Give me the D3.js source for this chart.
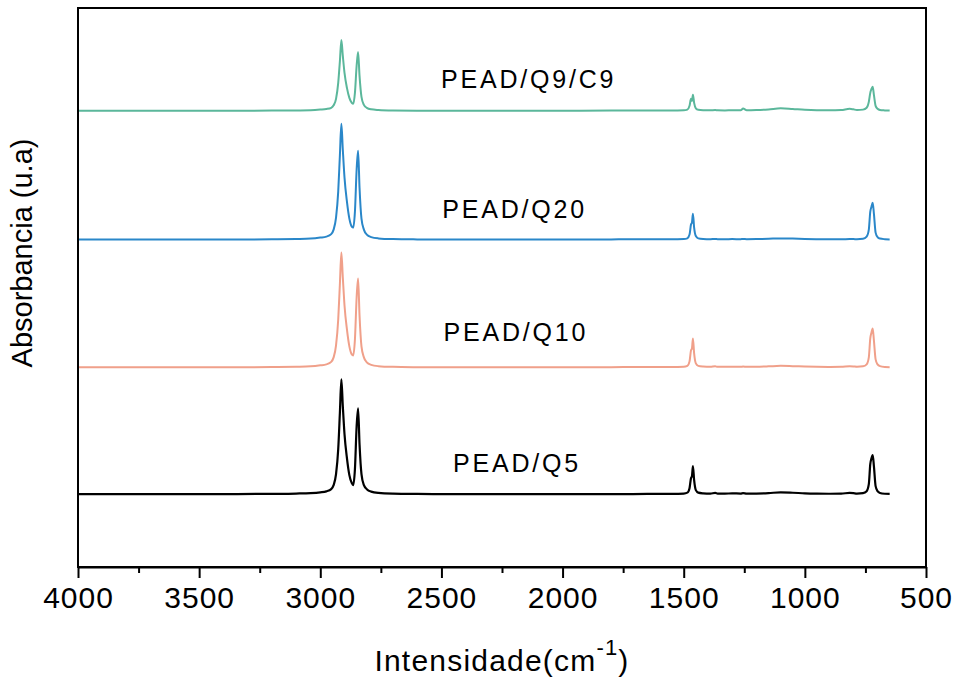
<!DOCTYPE html>
<html>
<head>
<meta charset="utf-8">
<script src="https://cdn.jsdelivr.net/npm/d3@7"></script>
<style>
    body { margin: 0; background: #fff; }
    text { font-family: "Liberation Sans", Arial, sans-serif; fill: #000; }
</style>
</head>
<body>
<div id="chart-area"></div>
<script>
/*
*    FTIR spectra of PEAD samples, stacked
*/

// wavenumber grid (cm-1), shared by every spectrum
const wavenumbers = [
    4000, 3800, 3600, 3400, 3200, 3100, 3040, 3000, 2975, 2955,
    2945, 2935, 2926, 2919, 2913, 2907, 2900, 2890, 2880, 2870,
    2864, 2857, 2850, 2844, 2838, 2830, 2820, 2808, 2790, 2760,
    2700, 2600, 2400, 2200, 2000, 1800, 1650, 1550, 1500, 1485,
    1476, 1470, 1466, 1462, 1457, 1450, 1440, 1420, 1390, 1370,
    1360, 1330, 1300, 1265, 1255, 1240, 1200, 1150, 1100, 1050,
    1000, 950, 900, 850, 815, 800, 785, 760, 745, 736,
    730, 725, 720, 715, 708, 700, 690, 670, 650
];

// absorbance above each baseline (u.a)
const q5 = [
    0, 0, 0, 0, 0.003, 0.006, 0.01, 0.018, 0.028, 0.05,
    0.09, 0.2, 0.45, 0.82, 1.15, 0.88, 0.6, 0.36, 0.19, 0.11,
    0.09, 0.25, 0.68, 0.86, 0.5, 0.2, 0.09, 0.05, 0.025, 0.012,
    0.005, 0.002, 0, 0, 0, 0, 0.002, 0.003, 0.006, 0.015,
    0.06, 0.16, 0.18, 0.28, 0.14, 0.04, 0.015, 0.008, 0.005, 0.012,
    0.006, 0.005, 0.008, 0.006, 0.01, 0.005, 0.006, 0.01, 0.018, 0.014,
    0.008, 0.005, 0.004, 0.005, 0.012, 0.01, 0.006, 0.01, 0.03, 0.1,
    0.3, 0.36, 0.39, 0.28, 0.08, 0.03, 0.012, 0.004, 0.002
];
const q10 = [
    0, 0, 0, 0, 0.003, 0.006, 0.01, 0.02, 0.03, 0.055,
    0.1, 0.22, 0.48, 0.84, 1.15, 0.9, 0.62, 0.38, 0.21, 0.13,
    0.12, 0.28, 0.7, 0.89, 0.52, 0.21, 0.1, 0.05, 0.025, 0.012,
    0.005, 0.002, 0, 0, 0, 0.002, 0.004, 0.004, 0.006, 0.015,
    0.06, 0.17, 0.19, 0.29, 0.14, 0.04, 0.015, 0.008, 0.005, 0.01,
    0.005, 0.005, 0.007, 0.005, 0.008, 0.005, 0.006, 0.01, 0.015, 0.012,
    0.008, 0.005, 0.004, 0.005, 0.01, 0.009, 0.006, 0.01, 0.03, 0.1,
    0.29, 0.35, 0.39, 0.27, 0.08, 0.03, 0.012, 0.004, 0.002
];
const q20 = [
    0, 0, 0, 0, 0.003, 0.006, 0.01, 0.02, 0.03, 0.055,
    0.1, 0.22, 0.48, 0.85, 1.16, 0.9, 0.62, 0.38, 0.21, 0.13,
    0.12, 0.28, 0.7, 0.89, 0.52, 0.21, 0.1, 0.05, 0.025, 0.012,
    0.005, 0.002, 0, 0, 0, 0.002, 0.003, 0.003, 0.005, 0.012,
    0.05, 0.15, 0.17, 0.26, 0.12, 0.035, 0.012, 0.006, 0.004, 0.006,
    0.004, 0.004, 0.005, 0.004, 0.006, 0.004, 0.005, 0.008, 0.012, 0.01,
    0.006, 0.004, 0.003, 0.003, 0.005, 0.005, 0.004, 0.008, 0.03, 0.1,
    0.28, 0.33, 0.37, 0.26, 0.07, 0.025, 0.01, 0.004, 0.002
];
const q9c9 = [
    0, 0, 0, 0, 0.002, 0.004, 0.006, 0.012, 0.018, 0.03,
    0.055, 0.12, 0.28, 0.5, 0.71, 0.55, 0.38, 0.23, 0.13, 0.08,
    0.07, 0.18, 0.45, 0.59, 0.35, 0.14, 0.06, 0.03, 0.015, 0.008,
    0.003, 0.001, 0, 0, 0, 0.002, 0.003, 0.003, 0.005, 0.012,
    0.05, 0.12, 0.1, 0.16, 0.08, 0.025, 0.01, 0.006, 0.005, 0.008,
    0.005, 0.004, 0.006, 0.006, 0.022, 0.006, 0.008, 0.014, 0.025, 0.018,
    0.01, 0.006, 0.005, 0.008, 0.02, 0.015, 0.008, 0.012, 0.03, 0.09,
    0.18, 0.22, 0.24, 0.16, 0.05, 0.02, 0.008, 0.004, 0.002
];

const seriesNames = ["PEAD/Q5", "PEAD/Q10", "PEAD/Q20", "PEAD/Q9/C9"];
const seriesValues = [q5, q10, q20, q9c9];
const offsets = [0.73, 2.0, 3.28, 4.57];   // vertical stacking (u.a)
const colors = ["#000000", "#f0a08a", "#2a87c9", "#5bb79b"];

const xTicks = [4000, 3500, 3000, 2500, 2000, 1500, 1000, 500];
const xMinorTicks = [3750, 3250, 2750, 2250, 1750, 1250, 750];

const margin = {left: 78, right: 30, top: 8, bottom: 113};
const width = 956 - margin.left - margin.right,
    height = 680 - margin.top - margin.bottom;

const svg = d3.select("#chart-area")
    .append("svg")
        .attr("width", 956)
        .attr("height", 680);

const g = svg.append("g")
    .attr("transform", "translate(" + margin.left + ", " + margin.top + ")");

//Scales
const x = d3.scaleLinear()
    .domain([4000, 500])
    .range([0, width]);

const y = d3.scaleLinear()
    .domain([0, 5.6])
    .range([height, 0]);

// spectra
const line = d3.line()
    .x(function(d){ return x(d.w); })
    .y(function(d){ return y(d.a); })
    .curve(d3.curveMonotoneX);

seriesValues.forEach(function(vals, i){
    const pts = wavenumbers.map(function(w, j){
        return {w: w, a: vals[j] + offsets[i]};
    });
    g.append("path")
        .datum(pts)
        .attr("fill", "none")
        .attr("stroke", colors[i])
        .attr("stroke-width", i === 0 ? 2.2 : 2)
        .attr("stroke-linejoin", "round")
        .attr("d", line);
});

// series labels (x in cm-1, y in u.a)
const labelPos = [[2188, 0.95], [2193, 2.26], [2198, 3.5], [2140, 4.8]];
seriesNames.forEach(function(name, i){
    g.append("text")
        .attr("x", x(labelPos[i][0]))
        .attr("y", y(labelPos[i][1]))
        .attr("font-size", "25px")
        .attr("letter-spacing", "2.8px")
        .attr("text-anchor", "middle")
        .text(name);
});

// frame
g.append("rect")
    .attr("width", width)
    .attr("height", height)
    .attr("fill", "none")
    .attr("stroke", "#000")
    .attr("stroke-width", 2);

// X AXIS
const xAxisCall = d3.axisBottom(x)
    .tickValues(xTicks)
    .tickSize(11)
    .tickSizeOuter(0)
    .tickFormat(d3.format("d"));
const xAxis = g.append("g")
    .attr("class", "x axis")
    .attr("transform", "translate(0," + height + ")")
    .call(xAxisCall);
xAxis.select(".domain").attr("stroke-width", 2);
xAxis.selectAll(".tick line").attr("stroke-width", 2);
xAxis.selectAll(".tick text")
    .attr("dy", null)
    .attr("y", 41)
    .attr("font-size", "30px")
    .attr("font-family", "Liberation Sans, Arial, sans-serif")
    .attr("letter-spacing", "1px")
    .attr("fill", "#000");

const xMinorCall = d3.axisBottom(x)
    .tickValues(xMinorTicks)
    .tickSize(6)
    .tickSizeOuter(0)
    .tickFormat("");
const xMinor = g.append("g")
    .attr("transform", "translate(0," + height + ")")
    .call(xMinorCall);
xMinor.select(".domain").remove();
xMinor.selectAll(".tick line").attr("stroke-width", 2);

//LABELS
const xLabel = svg.append("text")
    .attr("x", margin.left + width / 2)
    .attr("y", 671)
    .attr("font-size", "30px")
    .attr("letter-spacing", "1.2px")
    .attr("text-anchor", "middle");
xLabel.append("tspan").text("Intensidade(cm");
xLabel.append("tspan").attr("font-size", "22px").attr("dy", -16).text("-1");
xLabel.append("tspan").attr("dy", 16).text(")");

const yLabel = svg.append("text")
    .attr("transform", "rotate(-90)")
    .attr("y", 32)
    .attr("x", -253)
    .attr("font-size", "29px")
    .attr("text-anchor", "middle")
    .text("Absorbancia (u.a)");
</script>
</body>
</html>
